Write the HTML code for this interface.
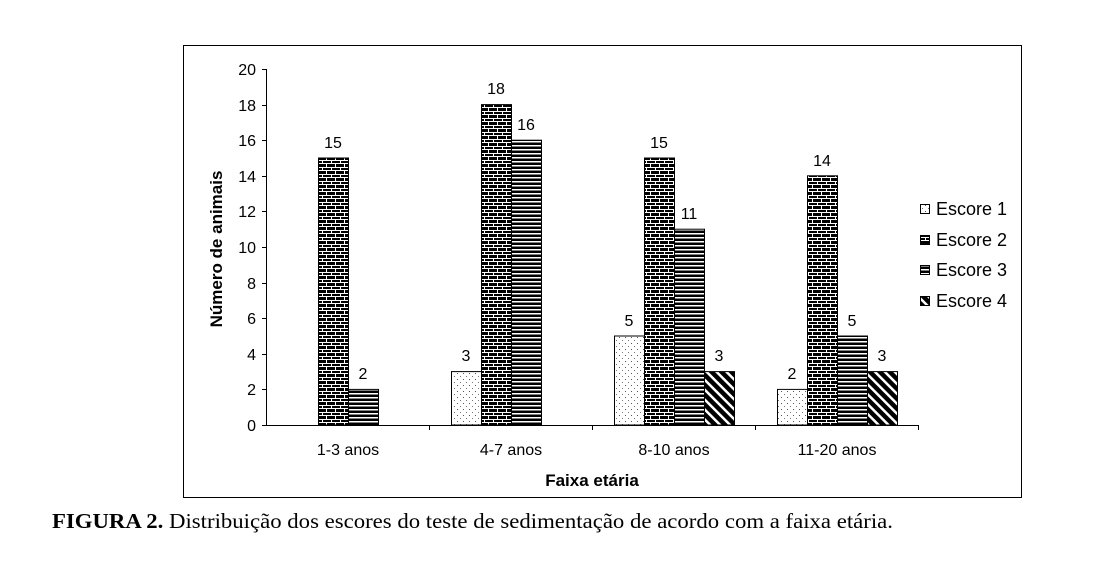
<!DOCTYPE html>
<html><head><meta charset="utf-8"><style>
html,body{margin:0;padding:0;background:#fff;}
svg{display:block;}
</style></head><body>
<svg width="1103" height="574" xmlns="http://www.w3.org/2000/svg" font-family="Liberation Sans, Arial, sans-serif">
<defs>
<pattern id="p1" width="6" height="6" patternUnits="userSpaceOnUse"><rect width="6" height="6" fill="#fff"/><rect x="1" y="1" width="1" height="1" fill="#555"/><rect x="4" y="4" width="1" height="1" fill="#777"/></pattern>
<pattern id="p2" width="9" height="7" patternUnits="userSpaceOnUse"><rect width="9" height="7" fill="#000"/><rect x="0" y="2" width="9" height="1" fill="#fff"/><rect x="0" y="6" width="9" height="1" fill="#fff"/><rect x="2" y="3" width="1" height="3" fill="#fff"/><rect x="7" y="0" width="1" height="2" fill="#fff"/></pattern>
<pattern id="p3" width="4" height="4" patternUnits="userSpaceOnUse"><rect width="4" height="4" fill="#000"/><rect x="0" y="1" width="4" height="1.5" fill="#fff"/></pattern>
<pattern id="p4" width="7" height="7" patternUnits="userSpaceOnUse" patternTransform="rotate(45)"><rect width="7" height="7" fill="#000"/><rect x="0" y="0" width="7" height="2.5" fill="#fff"/></pattern>
</defs>
<rect x="183.5" y="45.5" width="838" height="452" fill="none" stroke="#000" stroke-width="1"/>
<g font-size="16" text-anchor="end" fill="#000">
<text x="256" y="75">20</text><text x="256" y="111">18</text><text x="256" y="146">16</text><text x="256" y="182">14</text><text x="256" y="217">12</text><text x="256" y="253">10</text><text x="256" y="289">8</text><text x="256" y="324">6</text><text x="256" y="360">4</text><text x="256" y="395">2</text><text x="256" y="431">0</text>
</g>
<g stroke="#000" stroke-width="1">
<line x1="266.5" y1="69" x2="266.5" y2="425"/>
<line x1="262" y1="69.5" x2="266" y2="69.5"/><line x1="262" y1="105.5" x2="266" y2="105.5"/><line x1="262" y1="140.5" x2="266" y2="140.5"/><line x1="262" y1="176.5" x2="266" y2="176.5"/><line x1="262" y1="211.5" x2="266" y2="211.5"/><line x1="262" y1="247.5" x2="266" y2="247.5"/><line x1="262" y1="283.5" x2="266" y2="283.5"/><line x1="262" y1="318.5" x2="266" y2="318.5"/><line x1="262" y1="354.5" x2="266" y2="354.5"/><line x1="262" y1="389.5" x2="266" y2="389.5"/><line x1="262" y1="425.5" x2="266" y2="425.5"/>
<line x1="266" y1="425.5" x2="918" y2="425.5"/>
<line x1="429.5" y1="425" x2="429.5" y2="430"/><line x1="592.5" y1="425" x2="592.5" y2="430"/><line x1="755.5" y1="425" x2="755.5" y2="430"/><line x1="918.5" y1="425" x2="918.5" y2="430"/>
</g>
<g stroke="#000" stroke-width="1">
<rect x="318.5" y="158" width="30" height="267" fill="url(#p2)"/>
<rect x="348.5" y="389.4" width="30" height="35.6" fill="url(#p3)"/>
<rect x="451.5" y="371.6" width="30" height="53.4" fill="url(#p1)"/>
<rect x="481.5" y="104.6" width="30" height="320.4" fill="url(#p2)"/>
<rect x="511.5" y="140.2" width="30" height="284.8" fill="url(#p3)"/>
<rect x="614.5" y="336" width="30" height="89" fill="url(#p1)"/>
<rect x="644.5" y="158" width="30" height="267" fill="url(#p2)"/>
<rect x="674.5" y="229.2" width="30" height="195.8" fill="url(#p3)"/>
<rect x="704.5" y="371.6" width="30" height="53.4" fill="url(#p4)"/>
<rect x="777.5" y="389.4" width="30" height="35.6" fill="url(#p1)"/>
<rect x="807.5" y="175.8" width="30" height="249.2" fill="url(#p2)"/>
<rect x="837.5" y="336" width="30" height="89" fill="url(#p3)"/>
<rect x="867.5" y="371.6" width="30" height="53.4" fill="url(#p4)"/>
</g>
<g font-size="16" text-anchor="middle">
<text x="333" y="148">15</text><text x="363" y="379">2</text>
<text x="466" y="361">3</text><text x="496" y="94">18</text><text x="526" y="130">16</text>
<text x="629" y="326">5</text><text x="659" y="148">15</text><text x="689" y="219">11</text><text x="719" y="361">3</text>
<text x="792" y="379">2</text><text x="822" y="166">14</text><text x="852" y="326">5</text><text x="882" y="361">3</text>
<text x="348" y="455">1-3 anos</text><text x="511" y="455">4-7 anos</text><text x="674" y="455">8-10 anos</text><text x="837" y="455">11-20 anos</text>
<text x="592" y="486" font-weight="bold" font-size="17">Faixa etária</text>
</g>
<text transform="translate(222,249) rotate(-90)" text-anchor="middle" font-size="17" font-weight="bold">Número de animais</text>
<g stroke="#000" stroke-width="1">
<rect x="920.5" y="204.5" width="9" height="9" fill="url(#p1)"/>
<rect x="920.5" y="235.5" width="9" height="9" fill="url(#p2)"/>
<rect x="920.5" y="265.5" width="9" height="9" fill="url(#p3)"/>
<rect x="920.5" y="296.5" width="9" height="9" fill="url(#p4)"/>
</g>
<g font-size="18">
<text x="936" y="215">Escore 1</text><text x="936" y="246">Escore 2</text><text x="936" y="276">Escore 3</text><text x="936" y="307">Escore 4</text>
</g>
<text x="52" y="528" font-family="Liberation Serif, serif" font-size="21" textLength="841" lengthAdjust="spacingAndGlyphs"><tspan font-weight="bold">FIGURA 2.</tspan> Distribuição dos escores do teste de sedimentação de acordo com a faixa etária.</text>
</svg>
</body></html>
